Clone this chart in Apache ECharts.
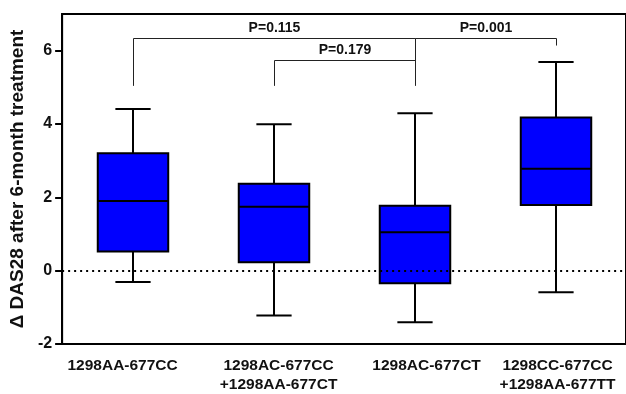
<!DOCTYPE html>
<html lang="en">
<head>
    <meta charset="UTF-8">
    <title>DAS28 boxplot</title>
    <style>
        html, body { margin: 0; padding: 0; background: #fff; }
        #chart { width: 626px; height: 394px; }
    </style>
</head>
<body>
    <div id="chart"></div>
    <script src="https://cdn.jsdelivr.net/npm/echarts@6/dist/echarts.min.js"></script>
    <script type="text/javascript">
        // groups
        var categories = ['1298AA-677CC', '1298AC-677CC\n+1298AA-677CT', '1298AC-677CT', '1298CC-677CC\n+1298AA-677TT'];
        // box values
        var whiskerLow = [-0.31, -1.22, -1.41, -0.59];
        var q1 = [0.52, 0.23, -0.34, 1.79];
        var median = [1.90, 1.74, 1.05, 2.78];
        var q3 = [3.20, 2.37, 1.77, 4.18];
        var whiskerHigh = [4.41, 3.99, 4.29, 5.69];
        var yTicks = [-2, 0, 2, 4, 6];

        // significance brackets (group index from/to, bar level, leg ends)
        var pFrom = [0, 1, 2];
        var pTo = [2, 2, 3];
        var pLevel = [6.34, 5.75, 6.34];
        var pLeftEnd = [5.04, 5.04, 6.34];
        var pRightEnd = [5.04, 5.75, 6.14];
        var pLabels = ['P=0.115', 'P=0.179', 'P=0.001'];

        var font = '"Liberation Sans", Arial, sans-serif';
        // the labels in the original are not quite centred under their ticks
        var labelNudge = [-10, 5, 12, 2];

        var boxData = categories.map(function (c, i) {
            return [i, whiskerLow[i], q1[i], median[i], q3[i], whiskerHigh[i]];
        });
        var bracketData = pLabels.map(function (p, i) {
            return [pFrom[i], pTo[i], pLevel[i], pLeftEnd[i], pRightEnd[i]];
        });
        var xLabels = categories.map(function (c, i) {
            var n = labelNudge[i] * 2;
            return { value: c, textStyle: { padding: [0, n < 0 ? -n : 0, 0, n > 0 ? n : 0] } };
        });

        function renderBox(params, api) {
            var i = api.value(0);
            var band = api.size([1, 0])[0];
            var bw = band * 0.5;
            var cap = bw * 0.5;
            var lo = api.coord([i, api.value(1)]);
            var b1 = api.coord([i, api.value(2)]);
            var md = api.coord([i, api.value(3)]);
            var b3 = api.coord([i, api.value(4)]);
            var hi = api.coord([i, api.value(5)]);
            var x = Math.round(lo[0]);
            var line = { stroke: '#000', lineWidth: 2 };
            return {
                type: 'group',
                children: [
                    { type: 'line', shape: { x1: x, y1: b3[1], x2: x, y2: hi[1] }, style: line },
                    { type: 'line', shape: { x1: x - cap / 2, y1: hi[1], x2: x + cap / 2, y2: hi[1] }, style: line },
                    { type: 'line', shape: { x1: x, y1: b1[1], x2: x, y2: lo[1] }, style: line },
                    { type: 'line', shape: { x1: x - cap / 2, y1: lo[1], x2: x + cap / 2, y2: lo[1] }, style: line },
                    {
                        type: 'rect',
                        shape: { x: x - bw / 2, y: b3[1], width: bw, height: b1[1] - b3[1] },
                        style: { fill: '#0000ff', stroke: '#000', lineWidth: 2 }
                    },
                    { type: 'line', shape: { x1: x - bw / 2, y1: md[1], x2: x + bw / 2, y2: md[1] }, style: line }
                ]
            };
        }

        function renderBracket(params, api) {
            var a = api.coord([api.value(0), api.value(2)]);
            var b = api.coord([api.value(1), api.value(2)]);
            var la = api.coord([api.value(0), api.value(3)]);
            var rb = api.coord([api.value(1), api.value(4)]);
            var xa = Math.round(a[0]) + 0.5;
            var xb = Math.round(b[0]) + 0.5;
            var y = Math.round(a[1]) + 0.5;
            return {
                type: 'group',
                children: [
                    {
                        type: 'polyline',
                        shape: { points: [[xa, la[1]], [xa, y], [xb, y], [xb, rb[1]]] },
                        style: { stroke: '#222', lineWidth: 1, fill: null }
                    },
                    {
                        type: 'text',
                        x: (xa + xb) / 2,
                        y: y - 3,
                        style: {
                            text: pLabels[params.dataIndex],
                            align: 'center',
                            verticalAlign: 'bottom',
                            font: 'bold 14px ' + font,
                            fill: '#111'
                        }
                    }
                ]
            };
        }

        var chart = echarts.init(document.getElementById('chart'));
        var option = {
            animation: false,
            grid: {
                left: 62,
                top: 14,
                bottom: 47,
                width: 566,
                show: true,
                borderColor: '#000',
                borderWidth: 2,
                backgroundColor: 'transparent'
            },
            xAxis: {
                type: 'category',
                data: xLabels,
                axisLine: { onZero: false, lineStyle: { color: '#000', width: 2 } },
                axisTick: { alignWithLabel: true, length: 5, lineStyle: { color: '#000', width: 2 } },
                axisLabel: {
                    interval: 0,
                    color: '#111',
                    fontFamily: font,
                    fontWeight: 'bold',
                    fontSize: 15.5,
                    lineHeight: 19,
                    margin: 12
                }
            },
            yAxis: {
                type: 'value',
                min: -2,
                max: 7,
                interval: 1,
                name: '\u0394 DAS28 after 6-month treatment',
                nameLocation: 'middle',
                nameGap: 24,
                nameTextStyle: {
                    color: '#111',
                    fontFamily: font,
                    fontWeight: 'bold',
                    fontSize: 19
                },
                splitLine: { show: false },
                axisLine: { show: true, lineStyle: { color: '#000', width: 2 } },
                axisTick: { show: true, length: 7, customValues: yTicks, lineStyle: { color: '#000', width: 2 } },
                axisLabel: {
                    customValues: yTicks,
                    color: '#111',
                    fontFamily: font,
                    fontWeight: 'bold',
                    fontSize: 16,
                    margin: 10
                }
            },
            series: [
                {
                    type: 'line',
                    data: [],
                    z: 1,
                    markLine: {
                        silent: true,
                        symbol: ['none', 'none'],
                        label: { show: false },
                        lineStyle: { color: '#000', width: 2, type: [2, 4] },
                        data: [{ yAxis: 0 }]
                    }
                },
                {
                    type: 'custom',
                    z: 3,
                    renderItem: renderBox,
                    encode: { x: 0, y: [1, 2, 3, 4, 5] },
                    data: boxData
                },
                {
                    type: 'custom',
                    z: 4,
                    renderItem: renderBracket,
                    encode: { x: [0, 1], y: [2, 3, 4] },
                    data: bracketData
                }
            ]
        };
        chart.setOption(option);
    </script>
</body>
</html>
